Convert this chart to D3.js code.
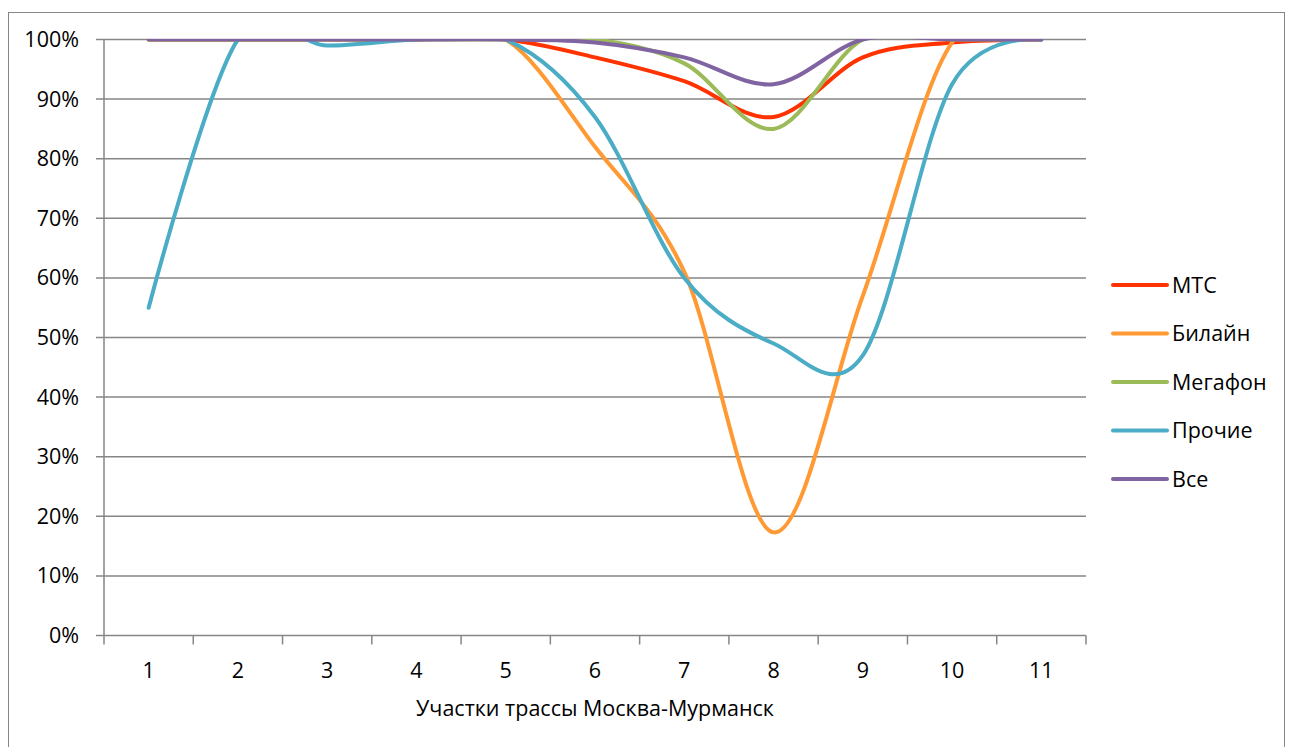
<!DOCTYPE html>
<html>
<head>
<meta charset="utf-8">
<script src="https://cdn.jsdelivr.net/npm/d3@7"></script>
<style>
  body { margin: 0; background: #fff; }
  svg { font-family: "Open Sans", Lato, sans-serif; }
</style>
</head>
<body>
<svg class="chart" width="1292" height="747"></svg>
<script>
// Sections of the route (x categories)
const sections = ['1', '2', '3', '4', '5', '6', '7', '8', '9', '10', '11']

// Coverage share, %
const mts     = [100, 100, 100, 100, 100, 97, 93, 87, 97, 99.5, 100]
const beeline = [100, 100, 100, 100, 100, 82, 61, 17.3, 57, 99.5, 100]
const megafon = [100, 100, 100, 100, 100, 100, 96, 85, 100, 100, 100]
const others  = [55, 100, 99, 100, 100, 87, 60, 49, 47, 92.5, 100]
const all     = [100, 100, 100, 100, 100, 99.5, 97, 92.5, 100, 100, 100]

const yTicks = [0, 10, 20, 30, 40, 50, 60, 70, 80, 90, 100]

const series = [
	{ name: 'МТС', values: mts, color: '#ff3300' },
	{ name: 'Билайн', values: beeline, color: '#ff9933' },
	{ name: 'Мегафон', values: megafon, color: '#9bbb59' },
	{ name: 'Прочие', values: others, color: '#4bacc6' },
	{ name: 'Все', values: all, color: '#8064a2' },
]

const svg = d3.select('svg.chart')
const grey = '#868686'
const fs = 21.5

// outer chart frame
svg.append('rect')
	.attr('x', 8.5).attr('y', 12.5)
	.attr('width', 1276).attr('height', 740)
	.attr('fill', 'none').attr('stroke', grey).attr('stroke-width', 1)

const [plotL, plotR, plotT, plotB] = [104, 1086, 39.5, 635.5]

const x = d3.scaleBand().domain(sections).range([plotL, plotR])
const y = d3.scaleLinear().domain([0, 100]).range([plotB, plotT])

// plot area clip (smoothed lines overshoot above 100%)
svg.append('clipPath').attr('id', 'plot')
	.append('rect')
		.attr('x', plotL).attr('y', plotT - 0.5)
		.attr('width', plotR - plotL).attr('height', plotB - plotT + 0.5)

// horizontal grid
svg.append('g')
	.selectAll('line')
		.data(yTicks)
	.enter().append('line')
		.attr('x1', plotL - 8).attr('x2', plotR)
		.attr('y1', d => y(d)).attr('y2', d => y(d))
		.attr('stroke', grey).attr('stroke-width', 1.5)

// y axis
svg.append('line')
	.attr('x1', plotL).attr('x2', plotL)
	.attr('y1', plotT).attr('y2', plotB)
	.attr('stroke', grey).attr('stroke-width', 1.5)

svg.append('g')
	.selectAll('text')
		.data(yTicks)
	.enter().append('text')
		.attr('x', 79).attr('y', d => y(d))
		.attr('dy', '0.35em')
		.attr('text-anchor', 'end')
		.attr('font-size', fs)
		.text(d => d + '%')

// x axis
svg.append('g')
	.selectAll('text')
		.data(sections)
	.enter().append('text')
		.attr('x', d => x(d) + x.bandwidth() / 2)
		.attr('y', 678)
		.attr('text-anchor', 'middle')
		.attr('font-size', fs)
		.text(d => d)

svg.append('g')
	.selectAll('line')
		.data(d3.range(sections.length + 1))
	.enter().append('line')
		.attr('x1', i => plotL + i * x.step()).attr('x2', i => plotL + i * x.step())
		.attr('y1', plotB).attr('y2', plotB + 9)
		.attr('stroke', grey).attr('stroke-width', 1.5)

svg.append('text')
	.attr('x', (plotL + plotR) / 2).attr('y', 716)
	.attr('text-anchor', 'middle')
	.attr('font-size', fs)
	.text('Участки трассы Москва-Мурманск')

// lines, Excel-like smoothing
const line = d3.line()
	.x((d, i) => x(sections[i]) + x.bandwidth() / 2)
	.y(d => y(d))
	.curve(d3.curveCardinal.tension(0))

svg.append('g')
	.attr('clip-path', 'url(#plot)')
	.selectAll('path')
		.data(series)
	.enter().append('path')
		.attr('d', d => line(d.values))
		.attr('fill', 'none')
		.attr('stroke', d => d.color)
		.attr('stroke-width', 4)
		.attr('stroke-linecap', 'round')

// legend
const legend = svg.append('g')
	.selectAll('g')
		.data(series)
	.enter().append('g')
		.attr('transform', (d, i) => `translate(1113,${285 + i * 48.5})`)

legend.append('line')
	.attr('x1', 0).attr('x2', 54)
	.attr('stroke', d => d.color)
	.attr('stroke-width', 4)
	.attr('stroke-linecap', 'round')

legend.append('text')
	.attr('x', 59).attr('dy', '0.35em')
	.attr('font-size', fs)
	.text(d => d.name)
</script>
</body>
</html>
